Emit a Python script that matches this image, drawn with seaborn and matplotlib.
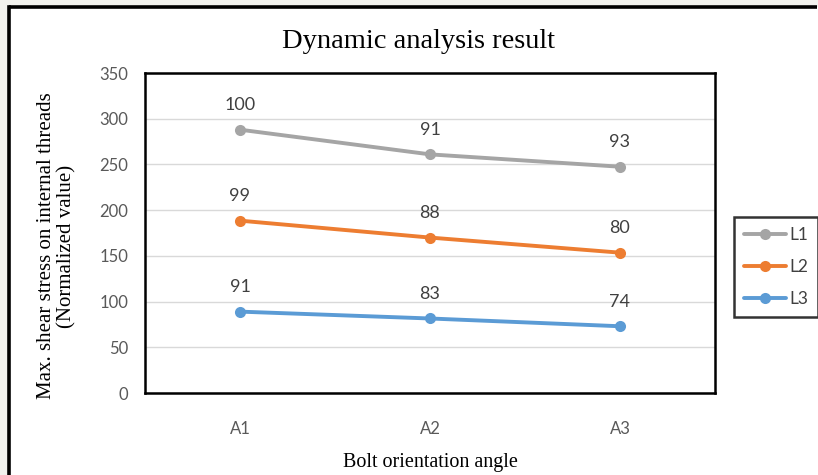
import matplotlib
matplotlib.use("Agg")
import matplotlib.pyplot as plt
from matplotlib.lines import Line2D
from matplotlib.patches import Rectangle
import pandas as pd
import seaborn as sns

# Data
angles = ["A1", "A2", "A3"]
series_names = ["L1", "L2", "L3"]
stress_L1 = [288, 261, 247.5]
stress_L2 = [188.5, 170, 153.5]
stress_L3 = [89, 81.5, 73]
norm_L1 = [100, 91, 93]
norm_L2 = [99, 88, 80]
norm_L3 = [91, 83, 74]
y_ticks = [0, 50, 100, 150, 200, 250, 300, 350]

colors = {"L1": "#a5a5a5", "L2": "#ed7d31", "L3": "#5b9bd5"}

rows = []
for name, vals in zip(series_names, [stress_L1, stress_L2, stress_L3]):
    for a, v in zip(angles, vals):
        rows.append({"angle": a, "stress": v, "series": name})
df = pd.DataFrame(rows)

sns.set_theme(style="white")
plt.rcParams["font.family"] = ["Lato", "DejaVu Sans"]

W, H = 818, 475
fig = plt.figure(figsize=(W / 100, H / 100), dpi=100)
fig.patch.set_facecolor("#f2f2ee")
fig.patch.set_edgecolor("none")
fig.patch.set_linewidth(0)

# white chart area with a black border on the left and top
x0, y0 = 9 / W, 1 - 7 / H
fig.patches.append(Rectangle((x0, 0), 1 - x0, y0, transform=fig.transFigure,
                             facecolor="white", edgecolor="none", zorder=-10))
fig.lines.append(Line2D([x0, x0], [0, y0], transform=fig.transFigure,
                        color="black", linewidth=2.6, solid_capstyle="projecting",
                        zorder=-9))
fig.lines.append(Line2D([x0, 0.999], [y0, y0], transform=fig.transFigure,
                        color="black", linewidth=2.6, solid_capstyle="butt",
                        zorder=-9))

ax = fig.add_axes([145 / W, 1 - 393 / H, (715 - 145) / W, (393 - 73) / H])
ax.set_zorder(2)
ax.set_facecolor("white")

sns.lineplot(data=df, x="angle", y="stress", hue="series", palette=colors,
             marker="o", markersize=8, markeredgewidth=0, linewidth=2.8,
             sort=False, legend=False, ax=ax)

# normalized values written above each point
for name, vals, labs in zip(series_names, [stress_L1, stress_L2, stress_L3],
                            [norm_L1, norm_L2, norm_L3]):
    for i, (v, lab) in enumerate(zip(vals, labs)):
        ax.annotate(f"{lab}", (i, v), xytext=(0, 12), textcoords="offset points",
                    ha="center", va="bottom", fontsize=13, color="#404040")

ax.set_xlim(-0.5, 2.5)
ax.set_ylim(0, 350)
ax.set_yticks(y_ticks)
ax.set_yticklabels([str(t) for t in y_ticks])
ax.grid(axis="y", color="#d9d9d9", linewidth=1)
ax.set_axisbelow(True)
ax.tick_params(axis="y", length=0, pad=12, labelsize=12, labelcolor="#595959")
ax.tick_params(axis="x", length=0, pad=20, labelsize=12, labelcolor="#595959")
ax.set_xlabel("")
ax.set_ylabel("")
for sp in ax.spines.values():
    sp.set_visible(True)
    sp.set_color("black")
    sp.set_linewidth(1.8)

fig.text(419 / W, 1 - 42 / H, "Dynamic analysis result", ha="center", va="center",
         fontsize=20.5, family="Liberation Serif", color="black")
fig.text(430 / W, 1 - 462 / H, "Bolt orientation angle", ha="center", va="center",
         fontsize=14.5, family="Liberation Serif", color="black")
fig.text(57 / W, 1 - 246 / H, "Max. shear stress on internal threads\n(Normalized value)",
         ha="center", va="center", rotation=90, fontsize=15, linespacing=1.1,
         family="Liberation Serif", color="black")

handles = [Line2D([0], [0], color=colors[n], linewidth=2.8, marker="o",
                  markersize=8, markeredgewidth=0) for n in series_names]
leg = fig.legend(handles, series_names, loc="center",
                 bbox_to_anchor=(776 / W, 1 - 267 / H), frameon=True,
                 fontsize=12.5, handlelength=2.4, labelspacing=0.9,
                 borderpad=0.6, handletextpad=0.2, borderaxespad=0, fancybox=False)
leg.get_frame().set_edgecolor("black")
leg.get_frame().set_linewidth(1.8)
leg.set_zorder(5)
for t in leg.get_texts():
    t.set_color("#404040")

fig.savefig("out.png", dpi=100, facecolor=fig.get_facecolor())
